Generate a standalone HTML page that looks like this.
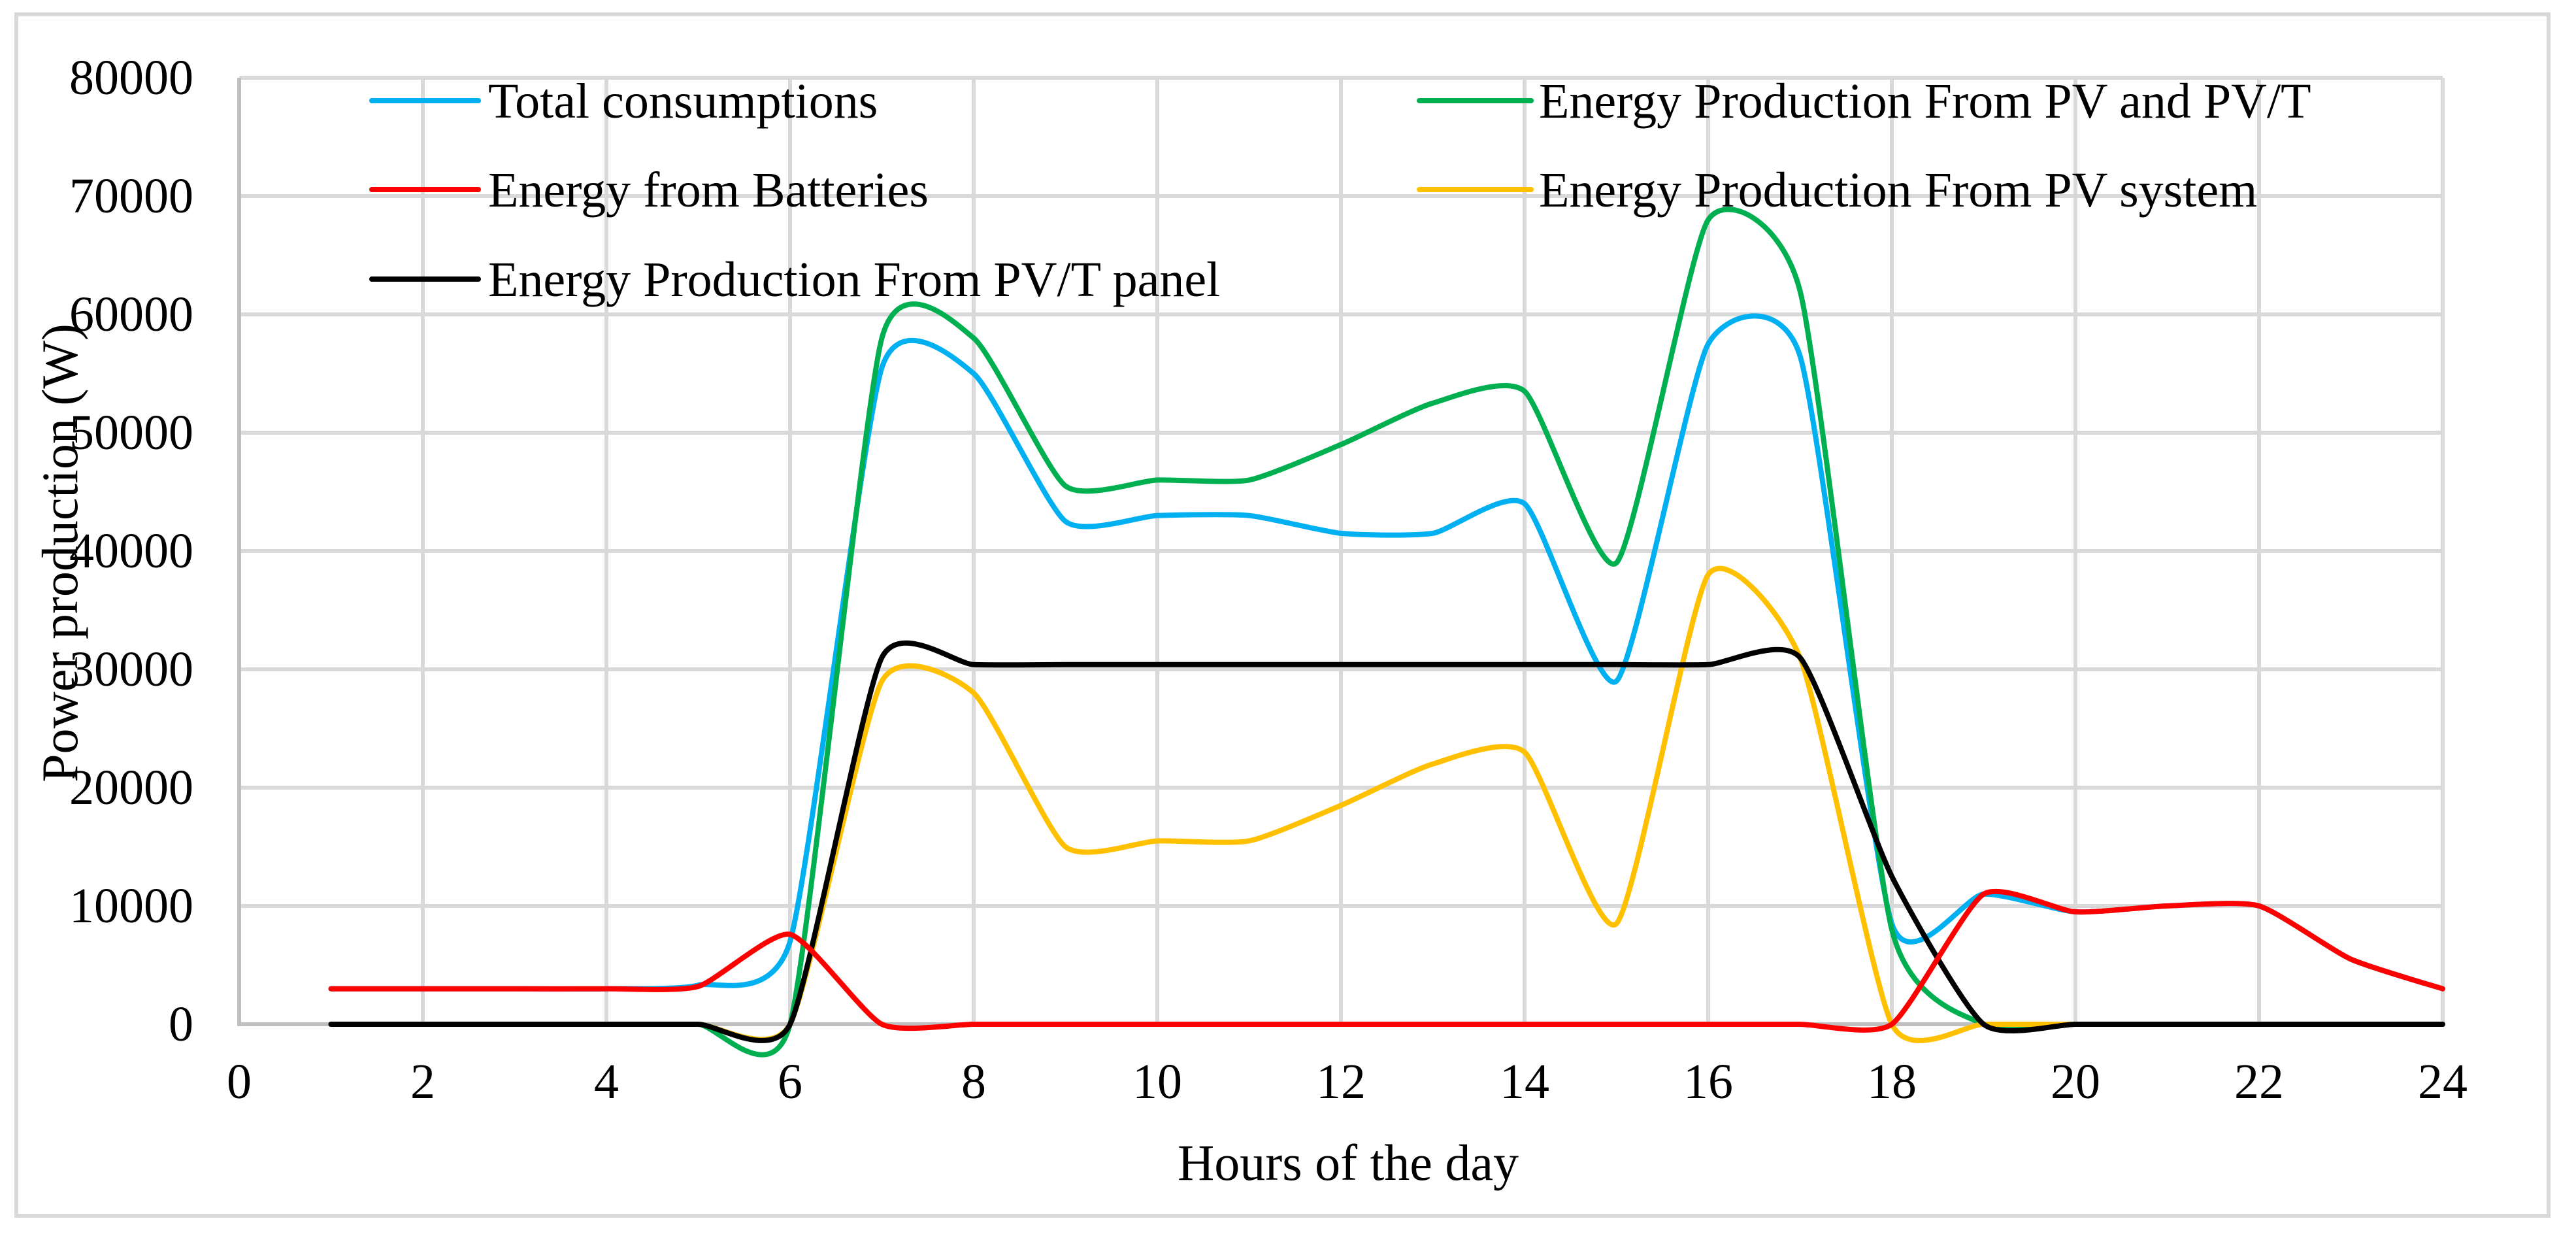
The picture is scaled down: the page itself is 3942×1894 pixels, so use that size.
<!DOCTYPE html>
<html><head><meta charset="utf-8"><style>
html,body{margin:0;padding:0;background:#fff;}
svg{display:block;font-family:"Liberation Serif","Times New Roman",serif;}
</style></head><body>
<svg id="chart" width="3942" height="1894" viewBox="0 0 3942 1894">
<rect x="25" y="22" width="3875" height="1838" fill="#fff" stroke="#d9d9d9" stroke-width="6"/>
<g id="grid"></g>
<g id="ticks"></g>
<g id="series"></g>
<g id="legend"></g>
<text x="2063" y="1805" font-size="78" text-anchor="middle" fill="#000">Hours of the day</text>
<text transform="translate(118,846) rotate(-90)" font-size="78" text-anchor="middle" fill="#000">Power production (W)</text>
</svg>
<script>
const hours = [1,2,3,4,5,6,7,8,9,10,11,12,13,14,15,16,17,18,19,20,21,22,23,24];
const totalConsumption = [3000,3000,3000,3000,3300,7000,55500,55000,42500,43000,43000,41500,41500,44000,29000,57500,56500,8500,11000,9500,10000,10000,5500,3000];
const batteries = [3000,3000,3000,3000,3200,7600,0,0,0,0,0,0,0,0,0,0,0,0,11000,9500,10000,10000,5500,3000];
const pvAndPvt = [0,0,0,0,0,0,58000,58000,45500,46000,46000,49000,52500,53500,39000,68000,62000,8000,0,0,0,0,0,0];
const pvSystem = [0,0,0,0,0,0,29000,28000,15000,15500,15500,18500,22000,23000,8500,38000,31000,0,0,0,0,0,0,0];
const pvtPanel = [0,0,0,0,0,0,31000,30400,30400,30400,30400,30400,30400,30400,30400,30400,31000,12500,0,0,0,0,0,0];
const xTicks = [0,2,4,6,8,10,12,14,16,18,20,22,24];
const yTicks = [0,10000,20000,30000,40000,50000,60000,70000,80000];
const seriesNames = ["Total consumptions","Energy from Batteries","Energy Production From PV/T panel","Energy Production From PV and PV/T","Energy Production From PV system"];

const NS="http://www.w3.org/2000/svg";
const X0=366,X1=3738,Y0=1567,Y1=119;
const xs=h=>X0+(h-0)/24*(X1-X0);
const ys=v=>Y0-(v/80000)*(Y0-Y1);
function mk(tag,attrs,parent){const e=document.createElementNS(NS,tag);for(const k in attrs)e.setAttribute(k,attrs[k]);parent.appendChild(e);return e;}
const grid=document.getElementById('grid'),ticks=document.getElementById('ticks'),series=document.getElementById('series'),legend=document.getElementById('legend');

yTicks.forEach(v=>{
  if(v>0){const l=mk('line',{x1:X0,x2:X1,y1:ys(v),y2:ys(v),stroke:'#d9d9d9','stroke-width':6},grid);
  
  }
  const t=mk('text',{x:296,y:ys(v)+25,'font-size':76,'text-anchor':'end',fill:'#000'},ticks);t.textContent=v;
  
  
});
xTicks.forEach(h=>{
  if(h>0){const l=mk('line',{x1:xs(h),x2:xs(h),y1:Y1,y2:Y0,stroke:'#d9d9d9','stroke-width':6},grid);
  
  }
  const t=mk('text',{x:xs(h),y:1680,'font-size':76,'text-anchor':'middle',fill:'#000'},ticks);t.textContent=h;
  
  
});
const ax=mk('path',{d:`M${X0},${Y1} L${X0},${Y0} L${X1},${Y0}`,fill:'none',stroke:'#bfbfbf','stroke-width':6},grid);



const K=0.1;
function smooth(vals){
  const p=vals.map((v,i)=>[xs(hours[i]),ys(v)]);
  let d=`M${p[0][0]},${p[0][1]}`;
  for(let i=0;i<p.length-1;i++){
    const a=p[Math.max(0,i-1)],b=p[i],c=p[i+1],e=p[Math.min(p.length-1,i+2)];
    const c1=[b[0]+(c[0]-a[0])*K,b[1]+(c[1]-a[1])*K];
    const c2=[c[0]-(e[0]-b[0])*K,c[1]-(e[1]-b[1])*K];
    d+=` C${c1[0]},${c1[1]} ${c2[0]},${c2[1]} ${c[0]},${c[1]}`;
  }
  return d;
}
const defs=[
 [totalConsumption,'#00b0f0','total-consumption-line'],
 [pvAndPvt,'#00b050','pv-and-pvt-line'],
 [pvSystem,'#ffc000','pv-system-line'],
 [pvtPanel,'#000000','pvt-panel-line'],
 [batteries,'#ff0000','batteries-line']
];
defs.forEach(([vals,col,name])=>{
  const p=mk('path',{d:smooth(vals),fill:'none',stroke:col,'stroke-width':8,'stroke-linecap':'round','stroke-linejoin':'round'},series);
  
  
});
const leg=[
 [569,732,747,154,'#00b0f0',seriesNames[0]],
 [569,732,747,290,'#ff0000',seriesNames[1]],
 [569,732,747,427,'#000000',seriesNames[2]],
 [2172,2343,2355,154,'#00b050',seriesNames[3]],
 [2172,2343,2355,290,'#ffc000',seriesNames[4]]
];
leg.forEach(([a,b,tx,y,col,label])=>{
  const g=mk('g',{},legend);
  
  
  mk('line',{x1:a,x2:b,y1:y,y2:y,stroke:col,'stroke-width':8,'stroke-linecap':'round'},g);
  const t=mk('text',{x:tx,y:y+26,'font-size':76,fill:'#000'},g);t.textContent=label;
});
</script>
</body></html>
